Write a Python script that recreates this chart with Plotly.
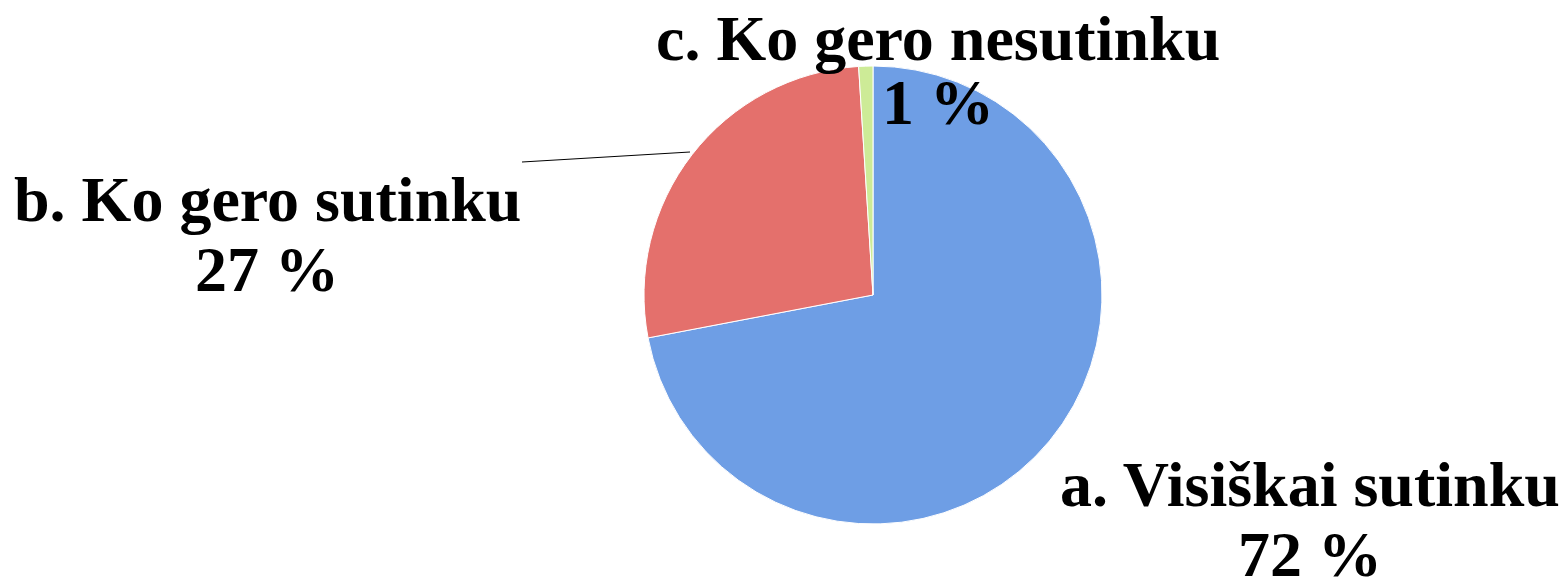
import plotly.graph_objects as go

categories = ["a. Visiškai sutinku", "b. Ko gero sutinku", "c. Ko gero nesutinku"]
values = [72, 27, 1]
pct_labels = ["72 %", "27 %", "1 %"]
colors = ["#6E9EE5", "#E4706C", "#CDEB97"]

# the page body has an 8px default margin, so the figure is drawn 8px in
OFF = 8
W, H = 1568 - OFF, 581 - OFF
cx, cy, r = 873 - OFF, 295 - OFF, 229

fig = go.Figure(go.Pie(
    labels=categories,
    values=values,
    sort=False,
    direction="clockwise",
    rotation=0,
    textinfo="none",
    hoverinfo="label+percent",
    marker=dict(colors=colors, line=dict(color="white", width=1)),
    domain=dict(x=[(cx - r) / W, (cx + r) / W], y=[(H - cy - r) / H, (H - cy + r) / H]),
    showlegend=False,
))

FS = 64
font = dict(family="Liberation Serif, Times New Roman, serif", size=FS, color="black")
# (center x, baseline of line 1, baseline of line 2) in reference pixels
label_pos = [(1310, 507, 577), (267, 222, 292), (938, 61, 125)]
for cat, pct, (px, b1, b2) in zip(categories, pct_labels, label_pos):
    for txt, base in ((cat, b1), (pct, b2)):
        yc = base - 0.35 * FS - OFF
        fig.add_annotation(
            x=(px - OFF) / W, y=1 - yc / H, xref="paper", yref="paper",
            text=f"<b>{txt}</b>", showarrow=False,
            font=font, align="center", xanchor="center", yanchor="middle",
        )

fig.add_shape(type="line", xref="paper", yref="paper",
              x0=(522 - OFF) / W, y0=1 - (162 - OFF) / H,
              x1=(690 - OFF) / W, y1=1 - (152 - OFF) / H,
              line=dict(color="black", width=1))

fig.update_layout(
    width=W, height=H,
    margin=dict(l=0, r=0, t=0, b=0),
    paper_bgcolor="white", plot_bgcolor="white",
)
fig.write_html("out.html")
